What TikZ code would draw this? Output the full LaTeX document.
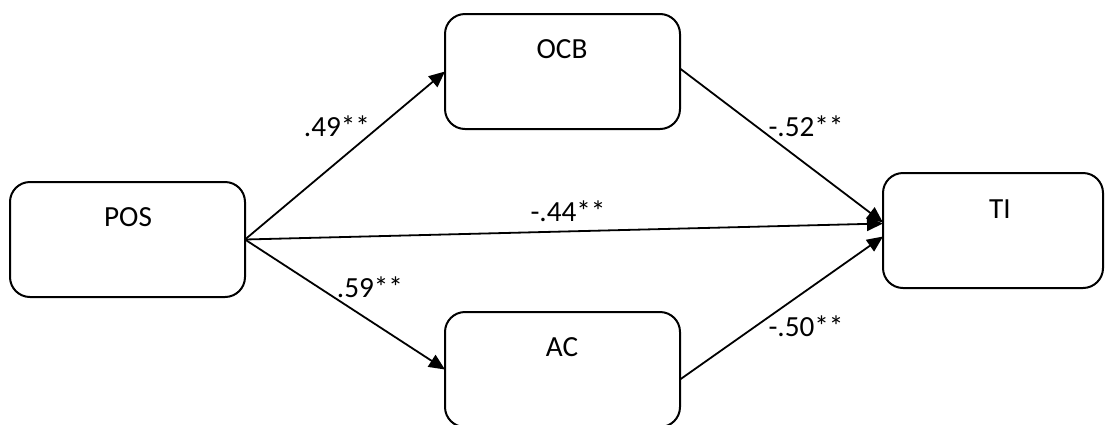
\documentclass[tikz,border=0pt]{standalone}
\usepackage{fontspec}
\setmainfont{Carlito}
\usetikzlibrary{arrows.meta,calc}
\begin{document}
\begin{tikzpicture}[x=0.5pt,y=-0.5pt,
  box/.style={draw,line width=1pt,rounded corners=10pt,minimum width=117.5pt,minimum height=57.5pt,inner sep=0pt,outer sep=0pt},
  txt/.style={font=\fontsize{14.6}{17}\selectfont,inner sep=0pt},
  arr/.style={line width=0.9pt,-{Triangle[length=8pt,width=7pt]}}]
\useasboundingbox (0,0) rectangle (1106,424);
\node[box] (pos) at (127.5,239.5) {};
\node[box] (ocb) at (562.5,71.5) {};
\node[box] (ac) at (562.5,369.5) {};
\node[box,minimum width=110pt] (ti) at (993,230.5) {};
\node[txt] (posT) at (128,217) {POS};
\node[txt] (ocbT) at (562,49) {OCB};
\node[txt] (acT) at (562,347) {AC};
\node[txt] (tiT) at (1000,209) {TI};
\draw[arr] (pos.east) -- (ocb.west);
\draw[arr] (pos.east) -- (ac.west);
\draw[arr] (pos.east) -- ([yshift=3.5pt]ti.west);
\draw[arr] ([yshift=1.5pt]ocb.east) -- ([yshift=4pt]ti.west);
\draw[arr] ([yshift=-5pt]ac.east) -- ([yshift=-3pt]ti.west);
\node[txt] (l1) at (337,126) {.49**};
\node[txt] (l2) at (370,287) {.59**};
\node[txt] (l3) at (568,211) {-.44**};
\node[txt] (l4) at (806,126) {-.52**};
\node[txt] (l5) at (806,326) {-.50**};
\end{tikzpicture}
\end{document}
